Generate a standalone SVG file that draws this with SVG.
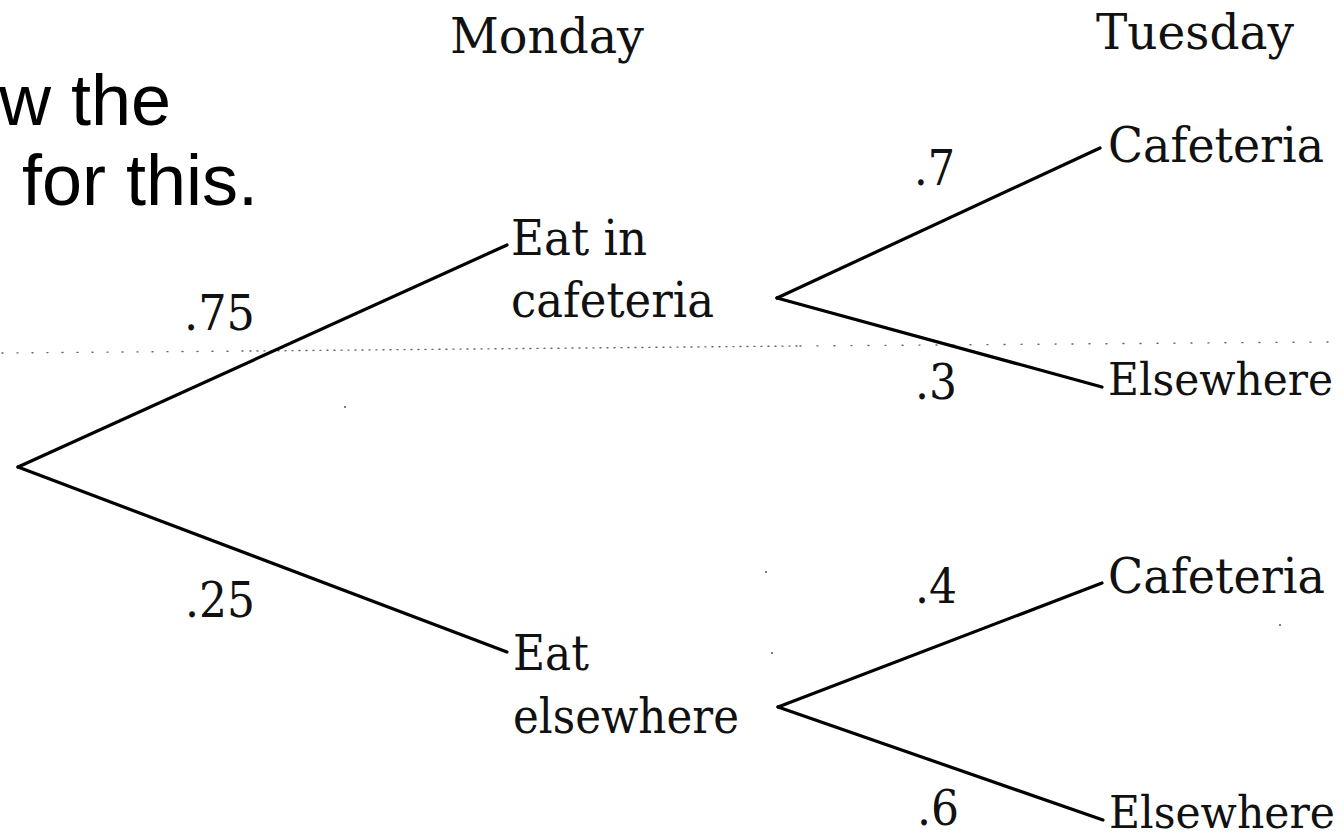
<svg xmlns="http://www.w3.org/2000/svg" width="1344" height="839" viewBox="0 0 1344 839">
  <style>
    .head { font-family: "Liberation Sans", Arial, sans-serif; font-size: 72px; fill: #000; }
    .lbl { font-family: "DejaVu Serif", "Liberation Serif", serif; font-size: 48px; fill: #111; }
    .lbl-edge { font-family: "DejaVu Serif", "Liberation Serif", serif; font-size: 44px; fill: #111; }
    .num { font-family: "DejaVu Serif", "Liberation Serif", serif; font-size: 48px; fill: #111; }
    .edge { stroke: #000; stroke-width: 3.2; stroke-linecap: round; fill: none; }
    .dots { stroke: #666; stroke-width: 1.4; fill: none; stroke-linecap: round; }
    .speck { fill: #555; }
  </style>
  <rect width="1344" height="839" fill="#fff"/>

  <g id="heading">
    <text class="head" x="171" y="125" text-anchor="end">w the</text>
    <text class="head" x="22" y="205">for this.</text>
  </g>

  <g id="guide">
    <path class="dots" d="M2 353 L250 351" stroke-dasharray="1 14"/>
    <path class="dots" d="M250 351 L800 346" stroke-dasharray="1 6"/>
    <path class="dots" d="M800 346 L1330 342" stroke-dasharray="1 16"/>
    <circle class="speck" cx="345" cy="407" r="1"/>
    <circle class="speck" cx="766" cy="572" r="1"/>
    <circle class="speck" cx="772" cy="653" r="1"/>
    <circle class="speck" cx="1280" cy="625" r="1"/>
  </g>

  <g id="connectors">
    <line class="edge" x1="18" y1="467" x2="507" y2="245"/>
    <line class="edge" x1="18" y1="467" x2="507" y2="652"/>
    <line class="edge" x1="777" y1="298" x2="1100" y2="148"/>
    <line class="edge" x1="777" y1="298" x2="1102" y2="387"/>
    <line class="edge" x1="778" y1="707" x2="1102" y2="583"/>
    <line class="edge" x1="778" y1="707" x2="1103" y2="820"/>
  </g>

  <g id="col-monday">
    <text class="lbl" x="450" y="53" textLength="194" lengthAdjust="spacingAndGlyphs">Monday</text>
  </g>
  <g id="col-tuesday">
    <text class="lbl" x="1096" y="49" textLength="198" lengthAdjust="spacingAndGlyphs">Tuesday</text>
  </g>

  <g id="node-eat-in-cafeteria">
    <text class="lbl" x="511" y="255" textLength="136" lengthAdjust="spacingAndGlyphs">Eat in</text>
    <text class="lbl" x="511" y="317" textLength="203" lengthAdjust="spacingAndGlyphs">cafeteria</text>
  </g>
  <g id="node-eat-elsewhere">
    <text class="lbl" x="513" y="670" textLength="76" lengthAdjust="spacingAndGlyphs">Eat</text>
    <text class="lbl" x="513" y="733" textLength="226" lengthAdjust="spacingAndGlyphs">elsewhere</text>
  </g>
  <g id="node-tue-cafeteria-1">
    <text class="lbl" x="1108" y="162" textLength="216" lengthAdjust="spacingAndGlyphs">Cafeteria</text>
  </g>
  <g id="node-tue-elsewhere-1">
    <text class="lbl-edge" x="1108" y="395" textLength="225" lengthAdjust="spacingAndGlyphs">Elsewhere</text>
  </g>
  <g id="node-tue-cafeteria-2">
    <text class="lbl" x="1108" y="593" textLength="217" lengthAdjust="spacingAndGlyphs">Cafeteria</text>
  </g>
  <g id="node-tue-elsewhere-2">
    <text class="lbl-edge" x="1109" y="828" textLength="226" lengthAdjust="spacingAndGlyphs">Elsewhere</text>
  </g>

  <g id="probabilities">
    <text class="num" x="184" y="330" textLength="71" lengthAdjust="spacingAndGlyphs">.75</text>
    <text class="num" x="185" y="617" textLength="70" lengthAdjust="spacingAndGlyphs">.25</text>
    <text class="num" x="914" y="185" textLength="41" lengthAdjust="spacingAndGlyphs">.7</text>
    <text class="num" x="915" y="399" textLength="42" lengthAdjust="spacingAndGlyphs">.3</text>
    <text class="num" x="915" y="603" textLength="42" lengthAdjust="spacingAndGlyphs">.4</text>
    <text class="num" x="917" y="825" textLength="42" lengthAdjust="spacingAndGlyphs">.6</text>
  </g>
</svg>
